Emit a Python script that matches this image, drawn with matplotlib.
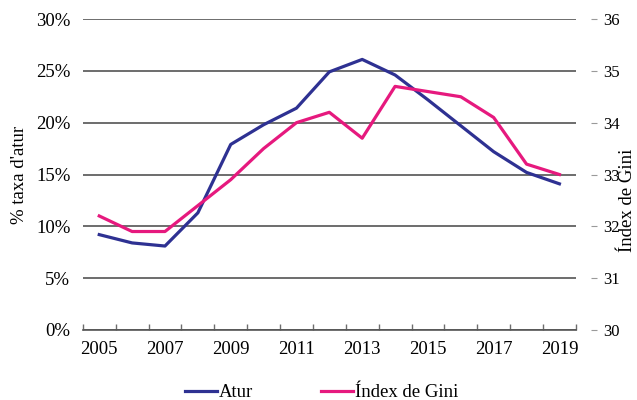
import numpy as np
import matplotlib
matplotlib.use('Agg')
import matplotlib.pyplot as plt

# data
years = list(range(2005, 2020))
atur = [9.2, 8.4, 8.1, 11.3, 17.9, 19.8, 21.4, 24.9, 26.1, 24.6, 22.2, 19.7, 17.2, 15.2, 14.1]
gini = [32.2, 31.9, 31.9, 32.4, 32.9, 33.5, 34.0, 34.2, 33.7, 34.7, 34.6, 34.5, 34.1, 33.2, 33.0]
left_ticks = [0, 5, 10, 15, 20, 25, 30]
right_ticks = [30, 31, 32, 33, 34, 35, 36]

plt.rcParams['font.family'] = ['Liberation Serif', 'DejaVu Serif']
blue = '#2e3192'
pink = '#e6197e'
grid_col = '#6d6d6d'
fs = 13.5

fig = plt.figure(figsize=(6.37, 4.0), dpi=100)
ax = fig.add_axes([0.130, 0.175, 0.774, 0.7775])
ax2 = ax.twinx()

x = np.arange(len(years))
l1, = ax.plot(x, atur, color=blue, lw=2.3, label='Atur', zorder=3)
l2, = ax2.plot(x, gini, color=pink, lw=2.3, label='Índex de Gini', zorder=3)

# left axis
ax.set_ylim(0, 30)
ax.set_yticks(left_ticks)
ax.set_yticklabels([f'{t}%' for t in left_ticks])
ax.tick_params(axis='y', length=0, pad=9, labelsize=fs)
ax.yaxis.grid(True, color=grid_col, lw=1.4)
ax.set_axisbelow(True)
ax.set_ylabel("% taxa d'atur", fontsize=fs, labelpad=6)

# x axis as categories
ax.set_xlim(-0.5, len(years) - 0.5)
ax.set_xticks(np.arange(-0.5, len(years), 1.0))
ax.set_xticklabels([])
ax.tick_params(axis='x', which='major', direction='in', length=4, color=grid_col, width=1)
ax.set_xticks(x[::2], minor=True)
ax.set_xticklabels([str(y) for y in years[::2]], minor=True)
ax.tick_params(axis='x', which='minor', length=0, pad=8, labelsize=fs)

for s in ['left', 'right', 'top']:
    ax.spines[s].set_visible(False)
ax.spines['bottom'].set_color('#555555')
ax.spines['bottom'].set_linewidth(1.2)

# right axis
ax2.set_ylim(30, 36)
ax2.set_yticks(right_ticks)
ax2.set_yticklabels([str(t) for t in right_ticks])
ax2.spines['right'].set_position(('outward', 11))
for s in ['left', 'right', 'top', 'bottom']:
    ax2.spines[s].set_visible(False)
ax2.tick_params(axis='y', length=4, color='#9a9a9a', pad=5, labelsize=12)
fig.text(628 / 637, 0.5, 'Índex de Gini', rotation=90, ha='center', va='center',
         fontsize=fs)

fig.legend(handles=[l1, l2], loc='lower center', bbox_to_anchor=(0.505, -0.045),
           ncol=2, frameon=False, fontsize=fs, handlelength=1.7,
           handletextpad=0.1, columnspacing=3.6)

fig.savefig('out.png', dpi=100)
